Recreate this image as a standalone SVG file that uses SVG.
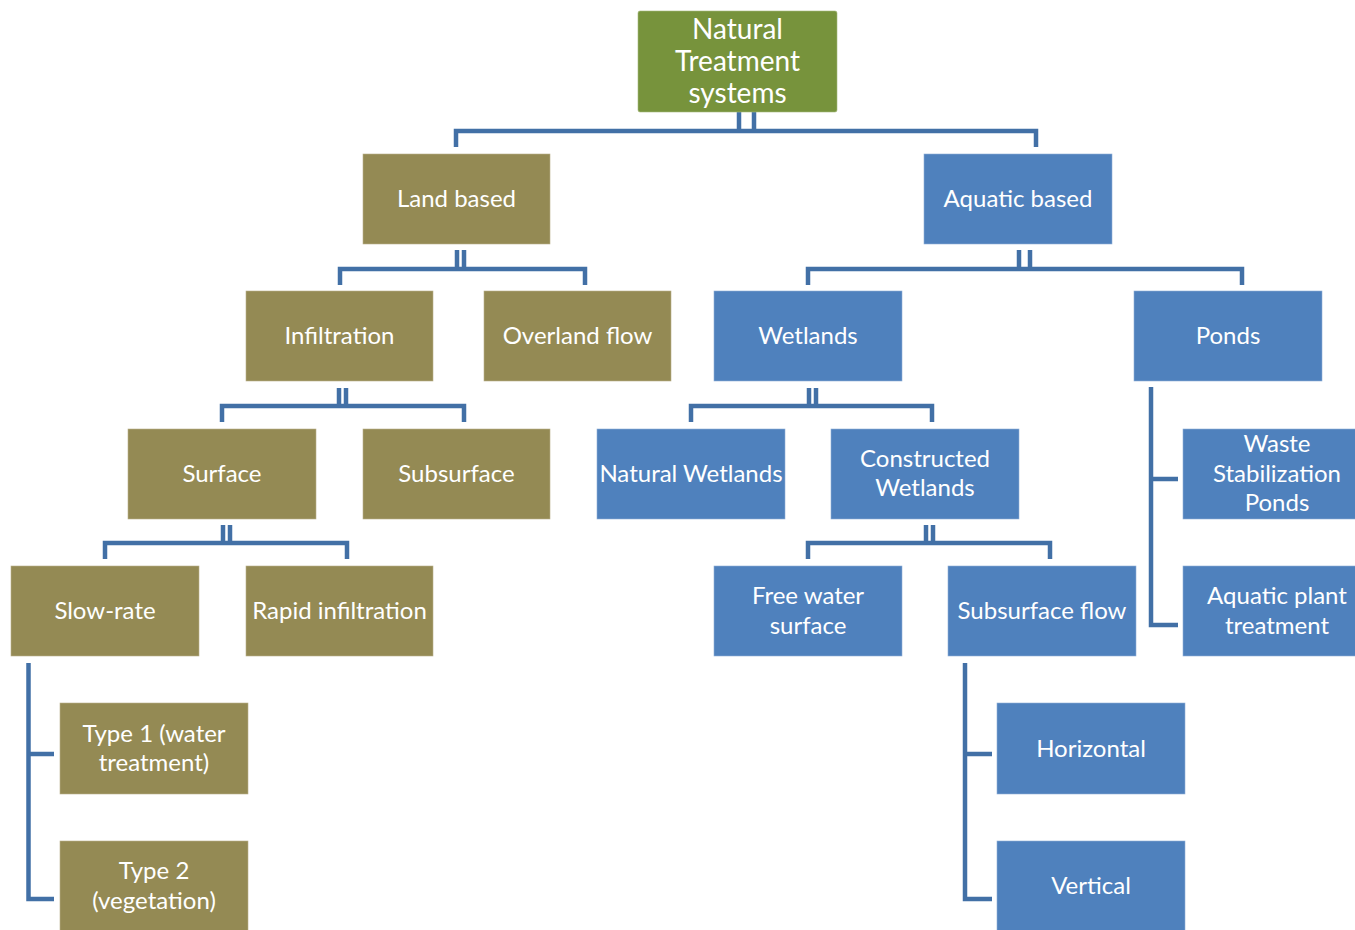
<svg xmlns="http://www.w3.org/2000/svg" width="1355" height="930" viewBox="0 0 1355 930">
  <style>
    .land { fill: #948A54; stroke: #b9b08a; stroke-width: 0.6; }
    .water { fill: #4F81BD; stroke: #8fb0d8; stroke-width: 0.6; }
    .root { fill: #77933C; stroke: #a6bb7c; stroke-width: 0.6; }
    .lbl { font-family: Lato, "Open Sans", sans-serif; font-size: 24px; fill: #ffffff; text-anchor: middle; }
    .big { font-size: 28px; }
    .conn { fill: none; stroke: #4270A6; stroke-width: 4.5; stroke-linejoin: miter; }
  </style>

  <!-- connectors -->
  <g id="connectors">
    <!-- root to land / aquatic -->
    <path class="conn" d="M739 112 V131 M754 112 V131 M456 147 V131 H1036 V147"/>
    <!-- land based to infiltration / overland flow -->
    <path class="conn" d="M457 250 V269 M464 250 V269 M340 285 V269 H585 V285"/>
    <!-- aquatic based to wetlands / ponds -->
    <path class="conn" d="M1019 250 V269 M1030 250 V269 M808 285 V269 H1242 V285"/>
    <!-- infiltration to surface / subsurface -->
    <path class="conn" d="M339 388 V406 M346 388 V406 M222 422 V406 H464 V422"/>
    <!-- wetlands to natural / constructed -->
    <path class="conn" d="M809 388 V406 M816 388 V406 M691 422 V406 H932 V422"/>
    <!-- surface to slow-rate / rapid infiltration -->
    <path class="conn" d="M223 525 V543 M230 525 V543 M105 559 V543 H347 V559"/>
    <!-- constructed wetlands to free water surface / subsurface flow -->
    <path class="conn" d="M926 525 V543 M933 525 V543 M808 559 V543 H1050 V559"/>
    <!-- slow-rate children -->
    <path class="conn" d="M28.5 663 V899 H54 M28.5 754 H54"/>
    <!-- ponds children -->
    <path class="conn" d="M1151 387 V625 H1178 M1151 479 H1178"/>
    <!-- subsurface flow children -->
    <path class="conn" d="M965 663 V899 H992 M965 754 H992"/>
  </g>

  <g id="root">
    <rect class="root" x="638" y="11" width="199" height="101" rx="2"/>
    <text class="lbl big" x="737.5" y="39">Natural</text>
    <text class="lbl big" x="737.5" y="71">Treatment</text>
    <text class="lbl big" x="737.5" y="103">systems</text>
  </g>

  <g id="land-based">
    <rect class="land" x="363" y="154" width="187" height="90"/>
    <text class="lbl" x="456.5" y="207">Land based</text>
  </g>
  <g id="aquatic-based">
    <rect class="water" x="924" y="154" width="188" height="90"/>
    <text class="lbl" x="1018" y="207">Aquatic based</text>
  </g>

  <g id="infiltration">
    <rect class="land" x="246" y="291" width="187" height="90"/>
    <text class="lbl" x="339.5" y="344">Infiltration</text>
  </g>
  <g id="overland-flow">
    <rect class="land" x="484" y="291" width="187" height="90"/>
    <text class="lbl" x="577.5" y="344">Overland flow</text>
  </g>
  <g id="wetlands">
    <rect class="water" x="714" y="291" width="188" height="90"/>
    <text class="lbl" x="808" y="344">Wetlands</text>
  </g>
  <g id="ponds">
    <rect class="water" x="1134" y="291" width="188" height="90"/>
    <text class="lbl" x="1228" y="344">Ponds</text>
  </g>

  <g id="surface">
    <rect class="land" x="128" y="429" width="188" height="90"/>
    <text class="lbl" x="222" y="482">Surface</text>
  </g>
  <g id="subsurface">
    <rect class="land" x="363" y="429" width="187" height="90"/>
    <text class="lbl" x="456.5" y="482">Subsurface</text>
  </g>
  <g id="natural-wetlands">
    <rect class="water" x="597" y="429" width="188" height="90"/>
    <text class="lbl" x="691" y="482">Natural Wetlands</text>
  </g>
  <g id="constructed-wetlands">
    <rect class="water" x="831" y="429" width="188" height="90"/>
    <text class="lbl" x="925" y="467">Constructed</text>
    <text class="lbl" x="925" y="496">Wetlands</text>
  </g>
  <g id="waste-stabilization-ponds">
    <rect class="water" x="1183" y="429" width="175" height="90"/>
    <text class="lbl" x="1277" y="452">Waste</text>
    <text class="lbl" x="1277" y="482">Stabilization</text>
    <text class="lbl" x="1277" y="511">Ponds</text>
  </g>

  <g id="slow-rate">
    <rect class="land" x="11" y="566" width="188" height="90"/>
    <text class="lbl" x="105" y="619">Slow-rate</text>
  </g>
  <g id="rapid-infiltration">
    <rect class="land" x="246" y="566" width="187" height="90"/>
    <text class="lbl" x="339.5" y="619">Rapid infiltration</text>
  </g>
  <g id="free-water-surface">
    <rect class="water" x="714" y="566" width="188" height="90"/>
    <text class="lbl" x="808" y="604">Free water</text>
    <text class="lbl" x="808" y="634">surface</text>
  </g>
  <g id="subsurface-flow">
    <rect class="water" x="948" y="566" width="188" height="90"/>
    <text class="lbl" x="1042" y="619">Subsurface flow</text>
  </g>
  <g id="aquatic-plant-treatment">
    <rect class="water" x="1183" y="566" width="175" height="90"/>
    <text class="lbl" x="1277" y="604">Aquatic plant</text>
    <text class="lbl" x="1277" y="634">treatment</text>
  </g>

  <g id="type-1">
    <rect class="land" x="60" y="703" width="188" height="91"/>
    <text class="lbl" x="154" y="742">Type 1 (water</text>
    <text class="lbl" x="154" y="771">treatment)</text>
  </g>
  <g id="type-2">
    <rect class="land" x="60" y="841" width="188" height="92"/>
    <text class="lbl" x="154" y="879">Type 2</text>
    <text class="lbl" x="154" y="909">(vegetation)</text>
  </g>
  <g id="horizontal">
    <rect class="water" x="997" y="703" width="188" height="91"/>
    <text class="lbl" x="1091" y="757">Horizontal</text>
  </g>
  <g id="vertical">
    <rect class="water" x="997" y="841" width="188" height="92"/>
    <text class="lbl" x="1091" y="894">Vertical</text>
  </g>
</svg>
